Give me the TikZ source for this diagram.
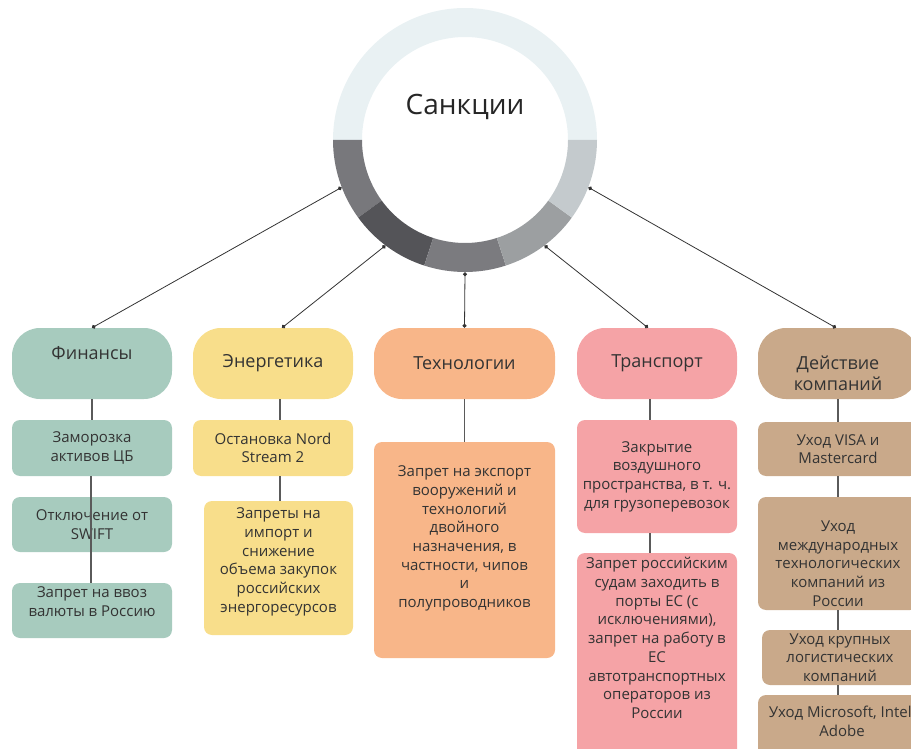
\documentclass[tikz,border=0pt]{standalone}
\usepackage{fontspec}
\setmainfont{Open Sans}
\usetikzlibrary{arrows.meta}

\definecolor{fin}{HTML}{A7CBBE}
\definecolor{ene}{HTML}{F8DE8B}
\definecolor{tec}{HTML}{F8B689}
\definecolor{tra}{HTML}{F5A3A6}
\definecolor{com}{HTML}{C9A98A}
\definecolor{ring0}{HTML}{E9F1F3}
\definecolor{ring1}{HTML}{78787C}
\definecolor{ring2}{HTML}{545458}
\definecolor{ring3}{HTML}{7B7B7F}
\definecolor{ring4}{HTML}{9C9FA1}
\definecolor{ring5}{HTML}{C4CACD}
\definecolor{txt}{HTML}{333333}
\definecolor{linkc}{HTML}{333333}
\definecolor{barc}{HTML}{5A5A5A}

\begin{document}
\begin{tikzpicture}[x=1pt, y=-1pt,
    cat/.style = {rounded corners=28pt, minimum width=160pt, minimum height=71pt, inner sep=0pt},
    sub/.style = {rounded corners=8pt, minimum width=160pt, inner sep=0pt},
    ctxt/.style = {align=center, text=txt, font=\fontsize{18}{21}\selectfont},
    stxt/.style = {align=center, text=txt, font=\fontsize{15}{18.7}\selectfont},
    link/.style = {draw=linkc, line width=0.8pt, arrows={Circle[length=4pt]-Circle[length=4pt]}},
    bar/.style = {draw=barc, line width=1.2pt}]
\useasboundingbox (0,0) rectangle (911,749);
\clip (0,0) rectangle (911,749);

% ring
\begin{scope}[shift={(465,140)}, yscale=-1]
  \fill[ring0] (0:132) arc[start angle=0, end angle=180, radius=132]
    -- (180:103) arc[start angle=180, end angle=0, radius=103] -- cycle;
  \foreach \a/\col in {180/ring1, 216/ring2, 252/ring3, 288/ring4, 324/ring5}
    \fill[\col] (\a:132) arc[start angle=\a, delta angle=36, radius=132]
      -- (\a+36:103) arc[start angle=\a+36, delta angle=-36, radius=103] -- cycle;
\end{scope}
\node[circle, minimum size=264pt, inner sep=0pt,
  label={[text=black!85, font=\fontsize{28}{32}\selectfont, yshift=33pt]center:Санкции}] (c) at (465,140) {};

% categories
\node[cat, fill=fin, label={[ctxt, yshift=10pt]center:Финансы}] (1) at (92,363.5) {};
\node[cat, fill=ene, label={[ctxt]center:Энергетика}] (2) at (273,363.5) {};
\node[cat, fill=tec, minimum width=181pt, label={[ctxt]center:Технологии}] (3) at (464.5,363.5) {};
\node[cat, fill=tra, label={[ctxt]center:Транспорт}] (4) at (657,363.5) {};
\node[cat, fill=com, label={[ctxt, yshift=-10pt]center:{Действие\\компаний}}] (5) at (838,363.5) {};

% finances
\node[sub, fill=fin, minimum height=56pt, label={[stxt]center:{Заморозка\\активов ЦБ}}] (11) at (92,448) {};
\node[sub, fill=fin, minimum height=55pt, label={[stxt]center:{Отключение от\\SWIFT}}] (12) at (92,524.5) {};
\node[sub, fill=fin, minimum height=55pt, label={[stxt, yshift=9pt]center:{Запрет на ввоз\\валюты в Россию}}] (13) at (92,610.5) {};

% energy
\node[sub, fill=ene, minimum height=56pt, label={[stxt]center:{Остановка Nord\\Stream 2}}] (21) at (273,448) {};
\node[sub, fill=ene, minimum width=149pt, minimum height=134pt,
  label={[stxt, yshift=6pt]center:{Запреты на\\импорт и\\снижение\\объема закупок\\российских\\энергоресурсов}}] (22) at (278.5,568) {};

% technology
\node[sub, fill=tec, minimum width=181pt, minimum height=216pt,
  label={[stxt, yshift=11.5pt]center:{Запрет на экспорт\\вооружений и\\технологий\\двойного\\назначения, в\\частности, чипов\\и\\полупроводников}}] (31) at (464.5,550) {};

% transport
\node[sub, fill=tra, minimum height=113pt,
  label={[stxt]center:{Закрытие\\воздушного\\пространства, в т. ч.\\для грузоперевозок}}] (41) at (657,476.5) {};
\node[sub, fill=tra, minimum height=206pt,
  label={[stxt, yshift=18pt]center:{Запрет российским\\судам заходить в\\порты ЕС (с\\исключениями),\\запрет на работу в\\ЕС\\автотранспортных\\операторов из\\России}}] (42) at (657,656) {};

% companies
\node[sub, fill=com, minimum height=54pt, label={[stxt]center:{Уход VISA и\\Mastercard}}] (51) at (838,449) {};
\node[sub, fill=com, minimum height=113pt,
  label={[stxt, yshift=-10pt]center:{Уход\\международных\\технологических\\компаний из\\России}}] (52) at (838,553.5) {};
\node[sub, fill=com, minimum width=156pt, minimum height=55pt,
  label={[stxt]center:{Уход крупных\\логистических\\компаний}}] (53) at (840,657.5) {};
\node[sub, fill=com, minimum height=64pt,
  label={[stxt, xshift=4pt, yshift=5.5pt]center:{Уход Microsoft, Intel,\\Adobe}}] (54) at (838,727) {};

% links from the ring
\draw[link] (c.201) -- (1.north);
\draw[link] (c.233) -- ([xshift=9pt]2.north);
\draw[link] (c.270) -- (3.north);
\draw[link] (c.307) -- ([xshift=-9pt]4.north);
\draw[link] (c.339) -- ([xshift=-2pt]5.north);

% columns
\draw[bar] (1) -- (11);
\draw[bar] ([xshift=-1pt]11.south) -- ([xshift=-1pt]13.north);
\draw[bar] ([xshift=7pt]2.south) -- ([xshift=7pt]21.north);
\draw[bar] ([xshift=7pt]21.south) -- ([xshift=1.5pt]22.north);
\draw[bar] (3) -- (31);
\draw[bar] ([xshift=-7pt]4.south) -- ([xshift=-7pt]41.north);
\draw[bar] ([xshift=-7pt]41.south) -- ([xshift=-7pt]42.north);
\draw[bar] (5) -- (51);
\draw[bar] (51) -- (52);
\draw[bar] (52.south) -- ([xshift=-2pt]53.north);
\draw[bar] ([xshift=-2pt]53.south) -- (54.north);
\end{tikzpicture}
\end{document}
